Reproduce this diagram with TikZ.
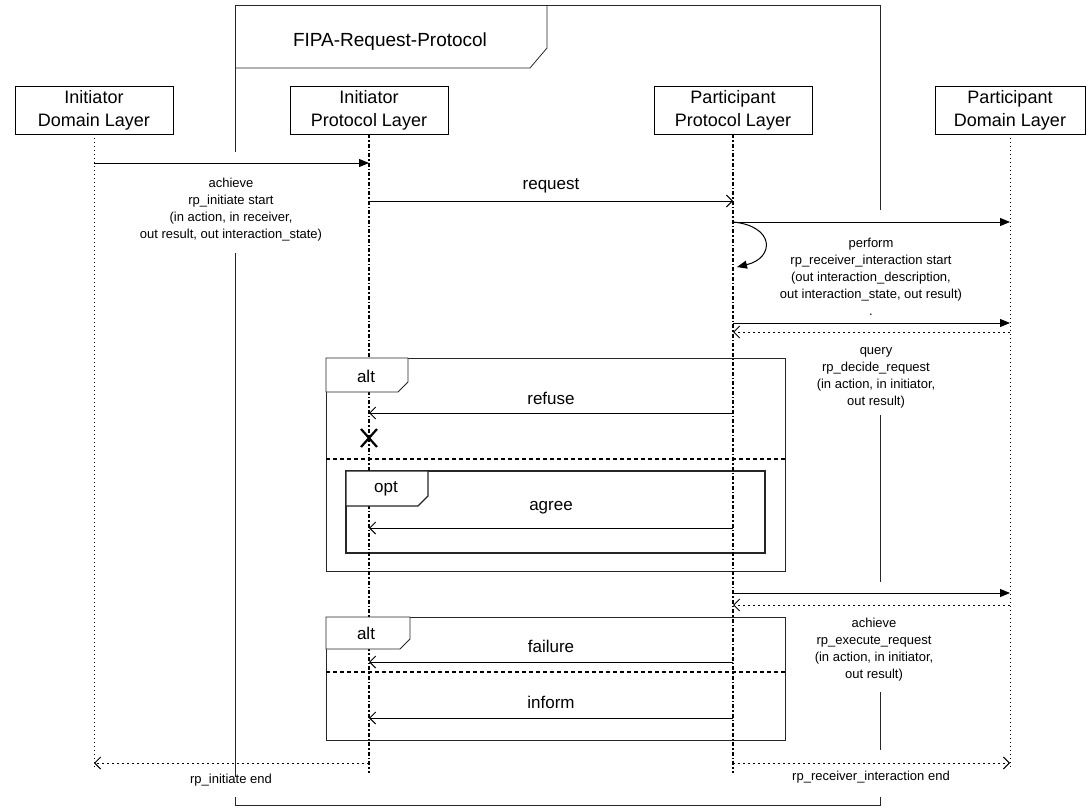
\documentclass[tikz,border=0pt]{standalone}
\usepackage{fontspec}
\setmainfont{Liberation Sans}
\usetikzlibrary{arrows.meta}
\begin{document}
\begin{tikzpicture}[x=1pt,y=-1pt,
  hdr/.style={draw, line width=0.8pt, minimum width=158pt, minimum height=48pt, align=center, inner sep=1pt, font=\fontsize{18}{23}\selectfont},
  lifeD/.style={line width=0.8pt, dash pattern=on 1pt off 3pt},
  lifeP/.style={line width=1.4pt, dash pattern=on 4pt off 2pt on 1.5pt off 2pt},
  call/.style={line width=1pt, -{Triangle[length=10pt,width=8pt]}},
  ret/.style={line width=1pt, dash pattern=on 2pt off 3pt, -{Straight Barb[length=6pt,width=12pt]}},
  msg/.style={line width=0.9pt, -{Straight Barb[length=6pt,width=12pt]}},
  frm/.style={line width=0.8pt, draw=black!85},
  tabshape/.style={frm, fill=white},
  lbl/.style={font=\fontsize{17}{20}\selectfont, inner sep=0pt},
  small/.style={font=\fontsize{13}{17}\selectfont, align=center, inner sep=0pt},
  sepline/.style={line width=1.2pt, dash pattern=on 4pt off 3pt},
  tag/.style={font=\fontsize{17}{20}\selectfont, inner sep=0pt}
]
\useasboundingbox (0,0) rectangle (1092,808);

% outer frame
\draw[frm] (235,152) -- (235,5) -- (880,5) -- (880,210);
\draw[frm] (235,253) -- (235,777);
\draw[frm] (235,797) -- (235,805) -- (880,805) -- (880,797);
\draw[frm] (880,415) -- (880,582);
\draw[frm] (880,692) -- (880,750);
\draw[frm] (235,68) -- (530,68) -- (547,48) -- (547,5);
\node[font=\fontsize{19}{22}\selectfont, inner sep=0pt] (ttl) at (390,42) {FIPA-Request-Protocol};

% headers
\node[hdr] (idl) at (94,110) {Initiator\\Domain Layer};
\node[hdr] (ipl) at (369,110) {Initiator\\Protocol Layer};
\node[hdr] (ppl) at (733,110) {Participant\\Protocol Layer};
\node[hdr, minimum width=150pt] (pdl) at (1010,110) {Participant\\Domain Layer};

% lifeline ends
\coordinate (e1) at (94,768);
\coordinate (e2) at (369,773);
\coordinate (e3) at (733,773);
\coordinate (e4) at (1010,768);

% combined fragments (bodies)
\draw[frm] (326,358) rectangle (785,571);
\draw[sepline] (326,459) -- (785,459);
\draw[frm, line width=1.3pt] (346,471) rectangle (765,553);
\draw[frm] (326,617) rectangle (785,740);
\draw[sepline] (326,672) -- (785,672);

% lifelines
\draw[lifeD] (idl.south) -- (e1);
\draw[lifeP] (ipl.south) -- (e2);
\draw[lifeP] (ppl.south) -- (e3);
\draw[lifeD] (pdl.south) -- (e4);

% fragment tabs (cover the lifelines)
\draw[tabshape] (326,358) -- (408,358) -- (408,382) -- (398,392) -- (326,392) -- cycle;
\node[tag] (alt1) at (366,376) {alt};
\draw[tabshape, line width=1.2pt] (346,471) -- (428,471) -- (428,496) -- (418,506) -- (346,506) -- cycle;
\node[tag] (opt1) at (386,489) {opt};
\draw[tabshape] (326,617) -- (410,617) -- (410,639) -- (400,649) -- (326,649) -- cycle;
\node[tag] (alt2) at (366,633) {alt};

% coordinates on lifelines
\coordinate (a1) at (94,163);   \coordinate (a2) at (369,163);
\coordinate (r1) at (369,201);  \coordinate (r2) at (733,201);
\coordinate (p1) at (733,222);  \coordinate (p2) at (1010,222);
\coordinate (p3) at (737,267);
\coordinate (q1) at (733,323);  \coordinate (q2) at (1010,323);
\coordinate (q3) at (1010,332); \coordinate (q4) at (733,332);
\coordinate (f1) at (733,413);  \coordinate (f2) at (369,413);
\coordinate (g1) at (733,528);  \coordinate (g2) at (369,528);
\coordinate (x1) at (733,593);  \coordinate (x2) at (1010,593);
\coordinate (x3) at (1010,605); \coordinate (x4) at (733,605);
\coordinate (h1) at (733,662);  \coordinate (h2) at (369,662);
\coordinate (i1) at (733,718);  \coordinate (i2) at (369,718);
\coordinate (b1) at (369,763);  \coordinate (b2) at (94,763);
\coordinate (b3) at (733,763);  \coordinate (b4) at (1010,763);
\coordinate (xm) at (369,438);

% messages
\draw[call] (a1) -- (a2);
\draw[msg] (r1) -- (r2);
\node[lbl] (lreq) at (551,186) {request};
\draw[call] (p1) -- (p2);
\draw[call] (p1) .. controls (775,226) and (775,258) .. (p3);
\draw[call] (q1) -- (q2);
\draw[ret] (q3) -- (q4);

\draw[msg] (f1) -- (f2);
\node[lbl] (lref) at (551,398) {refuse};
\draw[line width=2.2pt] ([shift={(-8,-9)}]xm) -- ([shift={(8,9)}]xm);
\draw[line width=2.2pt] ([shift={(-8,9)}]xm) -- ([shift={(8,-9)}]xm);
\draw[msg] (g1) -- (g2);
\node[lbl] (lagr) at (551,508) {agree};

\draw[call] (x1) -- (x2);
\draw[ret] (x3) -- (x4);
\draw[msg] (h1) -- (h2);
\node[lbl] (lfail) at (551,646) {failure};
\draw[msg] (i1) -- (i2);
\node[lbl] (linf) at (551,702) {inform};

\draw[ret] (b1) -- (b2);
\draw[ret] (b3) -- (b4);

% domain labels
\node[small] (t1) at (231,210) {achieve\\rp\_initiate start\\(in action, in receiver,\\out result, out interaction\_state)};
\node[small] (t2) at (871,277) {perform\\rp\_receiver\_interaction start\\(out interaction\_description,\\out interaction\_state, out result)\\.};
\node[small] (t3) at (876,378) {query\\rp\_decide\_request\\(in action, in initiator,\\out result)};
\node[small] (t4) at (874,650) {achieve\\rp\_execute\_request\\(in action, in initiator,\\out result)};
\node[small] (t5) at (231,780) {rp\_initiate end};
\node[small] (t6) at (871,777) {rp\_receiver\_interaction end};
\end{tikzpicture}
\end{document}
